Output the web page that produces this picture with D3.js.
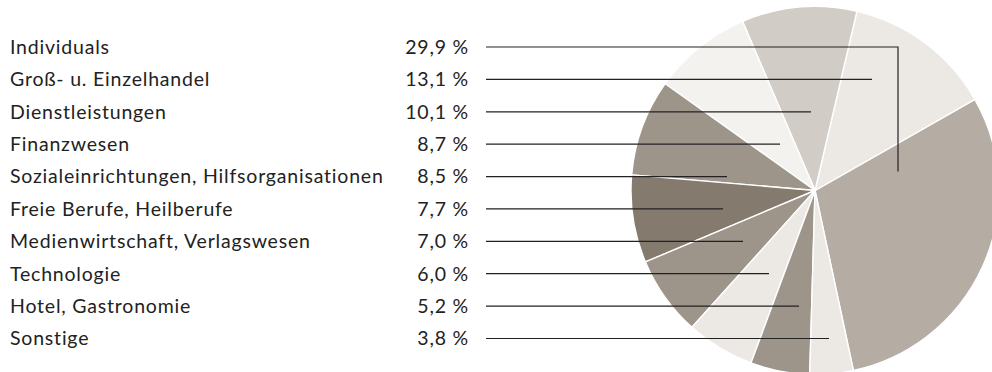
<!DOCTYPE html>
<html>
<head>
<meta charset="utf-8">
<script src="https://cdn.jsdelivr.net/npm/d3@7"></script>
<style>
  html, body { margin: 0; padding: 0; background: #fff; }
  svg { display: block; }
  text { font-family: Lato, "Open Sans", sans-serif; fill: #222; }
</style>
</head>
<body>
<svg id="chart" width="992" height="372"></svg>
<script>
// Branchenverteilung (Anteile in Prozent)
const categories = [
  "Individuals",
  "Groß- u. Einzelhandel",
  "Dienstleistungen",
  "Finanzwesen",
  "Sozialeinrichtungen, Hilfsorganisationen",
  "Freie Berufe, Heilberufe",
  "Medienwirtschaft, Verlagswesen",
  "Technologie",
  "Hotel, Gastronomie",
  "Sonstige"
];
const shares = [29.9, 13.1, 10.1, 8.7, 8.5, 7.7, 7.0, 6.0, 5.2, 3.8];

// Clockwise sequence of the slices around the pie
const pieOrder = [
  "Dienstleistungen",
  "Groß- u. Einzelhandel",
  "Individuals",
  "Sonstige",
  "Hotel, Gastronomie",
  "Technologie",
  "Medienwirtschaft, Verlagswesen",
  "Freie Berufe, Heilberufe",
  "Sozialeinrichtungen, Hilfsorganisationen",
  "Finanzwesen"
];

// Slice fills, in legend order
const sliceColors = [
  "#b5ada4", "#ece9e4", "#d1ccc5", "#f4f2ef", "#9e958a",
  "#857a6e", "#9e958a", "#ece9e4", "#9e958a", "#ece9e4"
];

// Where each leader line stops, horizontally, relative to the pie centre
const leaderEndDx = [83, 57, -4, -35, -88, -92, -72, -46, -16, 14];

const data = categories.map((c, i) => ({ name: c, value: shares[i], color: sliceColors[i], idx: i }));

const svg = d3.select("#chart");
const cx = 815, cy = 190.5, radius = 184;

const pie = d3.pie()
  .value(d => d.value)
  .sort((a, b) => pieOrder.indexOf(a.name) - pieOrder.indexOf(b.name))
  .startAngle(-23.2 * Math.PI / 180)
  .endAngle((360 - 23.2) * Math.PI / 180);

const arc = d3.arc().innerRadius(0).outerRadius(radius);

const g = svg.append("g").attr("transform", `translate(${cx},${cy})`);
g.selectAll("path.slice")
  .data(pie(data))
  .join("path")
  .attr("class", "slice")
  .attr("d", arc)
  .attr("fill", d => d.data.color)
  .attr("stroke", "#fff")
  .attr("stroke-width", 1.4)
  .attr("stroke-linejoin", "round");

// Legend rows with names, shares and leader lines
const rowY = d3.scalePoint().domain(categories).range([47, 338.5]);
const fmt = v => d3.format(".1f")(v).replace(".", ",") + " %";

const rows = svg.append("g").selectAll("g.row")
  .data(data)
  .join("g")
  .attr("class", "row")
  .attr("transform", d => `translate(0,${rowY(d.name)})`);

rows.append("text")
  .attr("x", 10)
  .attr("dy", "0.35em")
  .attr("font-size", 19.5)
  .attr("letter-spacing", 0.8)
  .text(d => d.name);

rows.append("text")
  .attr("x", 469)
  .attr("dy", "0.35em")
  .attr("text-anchor", "end")
  .attr("font-size", 19.5)
  .attr("letter-spacing", 0.8)
  .text(d => fmt(d.value));

rows.append("path")
  .attr("fill", "none")
  .attr("stroke", "#222")
  .attr("stroke-width", 1.2)
  .attr("d", d => {
    const x1 = cx + leaderEndDx[d.idx];
    if (d.idx === 0) {
      // the largest slice is reached with an elbow downwards
      return `M486,0H${x1}V${cy - 19 - rowY(d.name)}`;
    }
    return `M486,0H${x1}`;
  });
</script>
</body>
</html>
